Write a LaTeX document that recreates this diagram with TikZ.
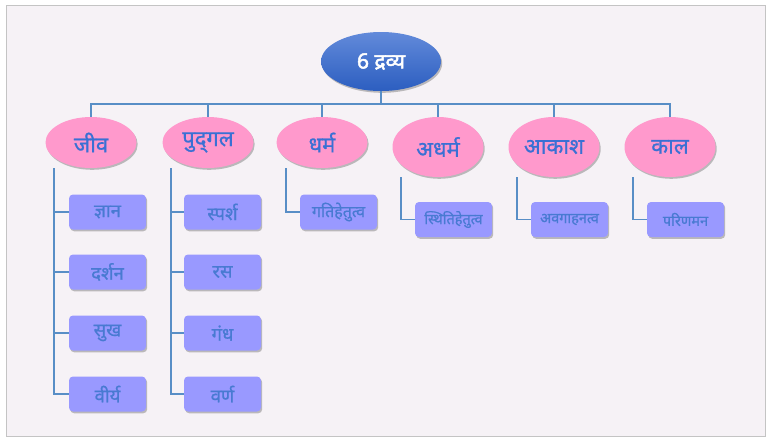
\documentclass[tikz,border=0pt]{standalone}
\usepackage{fontspec}
\newfontfamily\deva[Script=Devanagari,FakeBold=0.8]{Noto Sans}
\newfontfamily\devabold[Script=Devanagari,FakeBold=2.2]{Noto Sans}
\usetikzlibrary{shapes.geometric,shadows}

\definecolor{framebg}{RGB}{246,242,246}
\definecolor{framegray}{RGB}{196,196,196}
\definecolor{linkblue}{RGB}{88,142,198}
\definecolor{pinkfill}{RGB}{255,153,204}
\definecolor{boxfill}{RGB}{153,153,255}
\definecolor{dravyatext}{RGB}{58,112,212}
\definecolor{gunatext}{RGB}{72,122,210}
\definecolor{roottop}{RGB}{98,138,218}
\definecolor{rootbot}{RGB}{44,94,192}

\tikzset{
  softshadow/.style={drop shadow={shadow xshift=1.2pt,shadow yshift=-1.8pt,opacity=0.35,fill=black!70}},
  rootnode/.style={ellipse,minimum width=120pt,minimum height=59pt,inner sep=0pt,
    top color=roottop,bottom color=rootbot,text=white,softshadow,
    font=\devabold\fontsize{21}{24}\selectfont},
  dravyanode/.style={ellipse,minimum width=91pt,inner sep=0pt,fill=pinkfill,
    text=dravyatext,softshadow,font=\deva\fontsize{22}{24}\selectfont},
  gunanode/.style={rectangle,rounded corners=4pt,minimum width=77pt,minimum height=35pt,
    inner sep=0pt,fill=boxfill,text=gunatext,softshadow,font=\deva\fontsize{18.5}{20}\selectfont},
  smallguna/.style={gunanode,font=\deva\fontsize{14.5}{16}\selectfont},
  link/.style={linkblue,line width=1.3pt}
}

\begin{document}
\begin{tikzpicture}[x=1pt,y=-1pt]
  \fill[white] (0,0) rectangle (768,440);
  \draw[framegray,fill=framebg] (6,5) rectangle (765,436);
  \useasboundingbox (0,0) rectangle (768,440);

  % root and the six dravya
  \node[rootnode] (dravya) at (381,61.5) {6 द्रव्य};
  \coordinate (bar) at (381,104);
  \draw[link] (dravya.south) -- (bar);

  \foreach \name/\x/\y/\h/\txt in {jiva/91/142.5/51/जीव,pudgal/208/142.5/51/पुद्‌गल,
      dharma/322/142.5/51/धर्म,adharma/438/147/60/अधर्म,akash/554/147/60/आकाश,kaal/670/147/60/काल} {
    \node[dravyanode,minimum height=\h pt] (\name) at (\x,\y) {\txt};
    \draw[link] (bar) -| (\name.north);
  }

  % guna of jiva and pudgal
  \foreach \name/\y/\txt in {jnan/212/ज्ञान,darshan/272/दर्शन,sukh/333/सुख,virya/394/वीर्य} {
    \node[gunanode] (\name) at (107.5,\y) {\txt};
    \draw[link] ([xshift=-37pt]jiva.south) |- (\name.west);
  }
  \foreach \name/\y/\txt in {sparsh/212/स्पर्श,ras/272/रस,gandh/333/गंध,varn/394/वर्ण} {
    \node[gunanode] (\name) at (222.5,\y) {\txt};
    \draw[link] ([xshift=-37pt]pudgal.south) |- (\name.west);
  }

  % one guna each
  \node[smallguna,font=\deva\fontsize{16}{18}\selectfont] (gati) at (338.5,212) {गतिहेतुत्व};
  \node[smallguna] (sthiti) at (453.5,219.5) {स्थितिहेतुत्व};
  \node[smallguna] (avagah) at (569.5,219.5) {अवगाहनत्व};
  \node[smallguna] (parinam) at (685.5,219.5) {परिणमन};
  \draw[link] ([xshift=-36pt]dharma.south) |- (gati.west);
  \draw[link] ([xshift=-37pt]adharma.south) |- (sthiti.west);
  \draw[link] ([xshift=-37pt]akash.south) |- (avagah.west);
  \draw[link] ([xshift=-37pt]kaal.south) |- (parinam.west);
\end{tikzpicture}
\end{document}
